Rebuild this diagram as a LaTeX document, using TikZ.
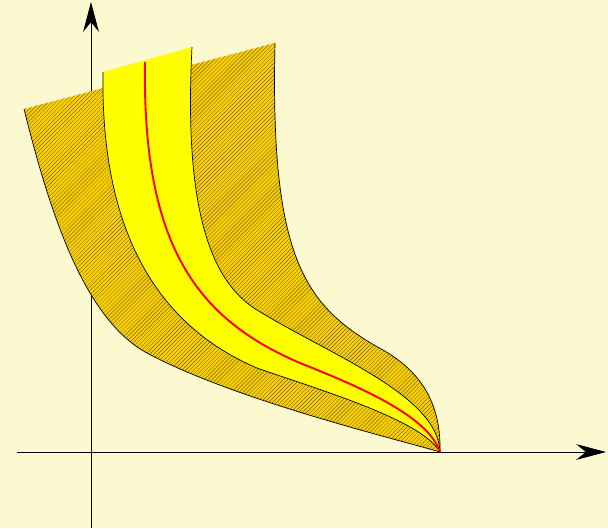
\documentclass[tikz,border=0pt]{standalone}
\usepackage{tikz}
\usetikzlibrary{arrows.meta,patterns.meta}

\definecolor{paper}{RGB}{252,248,208}
\definecolor{gold}{RGB}{252,208,0}
\definecolor{lemon}{RGB}{255,255,0}

\begin{document}
\begin{tikzpicture}[
    x=0.02cm, y=-0.02cm,
    hatched/.style={fill=gold, postaction={pattern={Lines[angle=45,distance=1.6pt,line width=0.15pt]}, pattern color=black!75}},
    inner/.style={fill=lemon},
    edge/.style={draw=black, line width=0.4pt},
    mean/.style={draw=red, line width=1.1pt},
    axis/.style={draw=black, line width=0.5pt, -{Stealth[length=17pt,width=9pt]}}
]
    % paper
    \fill[paper] (0,0) rectangle (608,528);
    \useasboundingbox (0,0) rectangle (608,528);

    \coordinate (O) at (91,452);
    \coordinate (P) at (440,452);
    \coordinate (xs) at (17,452);
    \coordinate (xe) at (606,452);
    \coordinate (ys) at (91,528);
    \coordinate (ye) at (91,2);
    \coordinate (outA) at (24,109);
    \coordinate (outB) at (275,43);
    \coordinate (inA) at (103,72);
    \coordinate (inB) at (192,47);
    \coordinate (mtop) at (145,62);

    % axes
    \draw[axis] (xs) -- (xe);
    \draw[axis] (ys) -- (ye);

    % outer band
    \path[hatched] (outA) .. controls (48,205) and (82,318) .. (147,353)
        .. controls (234,400) and (400,440) .. (P)
        .. controls (441,408) and (425,374) .. (383,350)
        .. controls (305,307) and (270,260) .. (outB) -- cycle;
    \draw[edge] (outA) .. controls (48,205) and (82,318) .. (147,353)
        .. controls (234,400) and (400,440) .. (P);
    \draw[edge] (P) .. controls (441,408) and (425,374) .. (383,350)
        .. controls (305,307) and (270,260) .. (outB);

    % inner band
    \path[inner] (inA) .. controls (100,260) and (180,335) .. (257,368)
        .. controls (320,390) and (422,420) .. (P)
        .. controls (438,395) and (330,355) .. (257,310)
        .. controls (215,284) and (183,220) .. (inB) -- cycle;
    \draw[edge] (inA) .. controls (100,260) and (180,335) .. (257,368)
        .. controls (320,390) and (422,420) .. (P);
    \draw[edge] (P) .. controls (438,395) and (330,355) .. (257,310)
        .. controls (215,284) and (183,220) .. (inB);

    % mean curve
    \draw[mean] (mtop) .. controls (142,250) and (200,320) .. (300,363)
        .. controls (355,385) and (428,415) .. (P);
\end{tikzpicture}
\end{document}
